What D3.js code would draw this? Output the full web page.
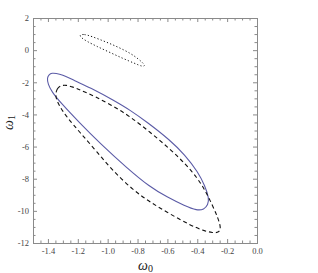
<!DOCTYPE html>
<html>
<head>
<meta charset="utf-8">
<script src="https://cdn.jsdelivr.net/npm/d3@7"></script>
<style>
  body { margin: 0; background: #fff; }
  svg { display: block; }
</style>
</head>
<body>
<svg id="chart" width="318" height="273"></svg>
<script>
// contour points, [omega0, omega1]
const solidContour = [
  [-1.406, -1.733], [-1.393, -1.516], [-1.373, -1.422], [-1.346, -1.441], [-1.306, -1.516],
  [-1.232, -1.858], [-1.085, -2.480], [-0.964, -3.102], [-0.850, -3.725], [-0.737, -4.471],
  [-0.583, -5.591], [-0.482, -6.525], [-0.395, -7.582], [-0.348, -8.453], [-0.321, -9.200],
  [-0.328, -9.636], [-0.355, -9.916], [-0.402, -9.978], [-0.482, -9.698], [-0.603, -9.138],
  [-0.717, -8.516], [-0.871, -7.333], [-1.051, -5.797], [-1.185, -4.552], [-1.319, -3.227],
  [-1.373, -2.605], [-1.400, -2.107]
];
const dashedContour = [
  [-1.353, -2.853], [-1.339, -2.356], [-1.313, -2.200], [-1.279, -2.169], [-1.232, -2.293],
  [-1.185, -2.468], [-1.085, -2.884], [-0.964, -3.476], [-0.850, -4.129], [-0.717, -5.093],
  [-0.583, -6.151], [-0.482, -7.053], [-0.402, -7.924], [-0.348, -8.702], [-0.301, -9.604],
  [-0.261, -10.444], [-0.241, -11.067], [-0.254, -11.347], [-0.295, -11.378], [-0.362, -11.222],
  [-0.449, -10.880], [-0.583, -10.196], [-0.717, -9.449], [-0.830, -8.702], [-0.964, -7.520],
  [-1.071, -6.338], [-1.185, -5.124], [-1.272, -4.191], [-1.326, -3.444]
];
const dottedContour = [
  [-1.189, 0.942], [-1.159, 1.004], [-1.105, 0.849], [-1.018, 0.538], [-0.931, 0.196],
  [-0.844, -0.209], [-0.790, -0.582], [-0.760, -0.831], [-0.750, -0.987], [-0.770, -1.018],
  [-0.817, -0.831], [-0.897, -0.520], [-0.984, -0.147], [-1.071, 0.227], [-1.138, 0.538],
  [-1.179, 0.787]
];

const xDomain = [-1.5, 0.0];
const yDomain = [-12, 2];
const xMajor = [-1.4, -1.2, -1.0, -0.8, -0.6, -0.4, -0.2, 0.0];
const yMajor = [-12, -10, -8, -6, -4, -2, 0, 2];

const svg = d3.select("#chart");
const margin = { left: 33, top: 18, right: 61, bottom: 30 };
const W = 318 - margin.left - margin.right;
const H = 273 - margin.top - margin.bottom;

const x = d3.scaleLinear().domain(xDomain).range([margin.left, margin.left + W]);
const y = d3.scaleLinear().domain(yDomain).range([margin.top + H, margin.top]);

// minor ticks
const xMinor = d3.range(-1.5, 0.0001, 0.05).filter(v => !xMajor.some(m => Math.abs(m - v) < 1e-6));
const yMinor = d3.range(-12, 2.0001, 0.5).filter(v => !yMajor.some(m => Math.abs(m - v) < 1e-6));

const fmtX = d => d3.format(".1f")(d).replace("−", "-");
const fmtY = d => String(d);

const axisColor = "#8a8a8a";
const labelColor = "#444";
const tickFont = "Liberation Serif, serif";

function styleAxis(g) {
  g.select(".domain").remove();
  g.selectAll("line").attr("stroke", axisColor).attr("stroke-width", 1);
  g.selectAll("text").attr("fill", labelColor).attr("font-family", tickFont).attr("font-size", 8.5);
}

// bottom
svg.append("g").attr("transform", `translate(0,${margin.top + H})`)
  .call(d3.axisBottom(x).tickValues(xMajor).tickFormat(fmtX).tickSize(-4).tickPadding(5))
  .call(styleAxis);
svg.append("g").attr("transform", `translate(0,${margin.top + H})`)
  .call(d3.axisBottom(x).tickValues(xMinor).tickFormat("").tickSize(-2.5))
  .call(styleAxis);
// top
svg.append("g").attr("transform", `translate(0,${margin.top})`)
  .call(d3.axisTop(x).tickValues(xMajor).tickFormat("").tickSize(-4))
  .call(styleAxis);
svg.append("g").attr("transform", `translate(0,${margin.top})`)
  .call(d3.axisTop(x).tickValues(xMinor).tickFormat("").tickSize(-2.5))
  .call(styleAxis);
// left
svg.append("g").attr("transform", `translate(${margin.left},0)`)
  .call(d3.axisLeft(y).tickValues(yMajor).tickFormat(fmtY).tickSize(-4).tickPadding(4))
  .call(styleAxis);
svg.append("g").attr("transform", `translate(${margin.left},0)`)
  .call(d3.axisLeft(y).tickValues(yMinor).tickFormat("").tickSize(-2.5))
  .call(styleAxis);
// right
svg.append("g").attr("transform", `translate(${margin.left + W},0)`)
  .call(d3.axisRight(y).tickValues(yMajor).tickFormat("").tickSize(-4))
  .call(styleAxis);
svg.append("g").attr("transform", `translate(${margin.left + W},0)`)
  .call(d3.axisRight(y).tickValues(yMinor).tickFormat("").tickSize(-2.5))
  .call(styleAxis);

// frame
svg.append("rect")
  .attr("x", margin.left + 0.5).attr("y", margin.top + 0.5)
  .attr("width", W).attr("height", H)
  .attr("fill", "none").attr("stroke", axisColor).attr("stroke-width", 1);

// contours
const line = d3.line()
  .x(d => x(d[0]))
  .y(d => y(d[1]))
  .curve(d3.curveBasisClosed);

const plot = svg.append("g");
plot.append("path").datum(solidContour)
  .attr("d", line).attr("fill", "none")
  .attr("stroke", "#5b5ba6").attr("stroke-width", 1.1);
plot.append("path").datum(dashedContour)
  .attr("d", line).attr("fill", "none")
  .attr("stroke", "#111").attr("stroke-width", 1.1)
  .attr("stroke-dasharray", "4,3");
plot.append("path").datum(dottedContour)
  .attr("d", line).attr("fill", "none")
  .attr("stroke", "#111").attr("stroke-width", 1)
  .attr("stroke-dasharray", "1.2,2.2");

// axis titles
const xt = svg.append("text")
  .attr("x", 138).attr("y", 270)
  .attr("font-family", tickFont).attr("font-style", "italic")
  .attr("font-size", 14).attr("fill", "#222");
xt.append("tspan").text("ω");
xt.append("tspan").attr("font-size", 10).attr("dy", 2).attr("font-style", "normal").text("0");

const yt = svg.append("text")
  .attr("transform", "translate(13,130) rotate(-90)")
  .attr("font-family", tickFont).attr("font-style", "italic")
  .attr("font-size", 14).attr("fill", "#222");
yt.append("tspan").text("ω");
yt.append("tspan").attr("font-size", 10).attr("dy", 2).attr("font-style", "normal").text("1");
</script>
</body>
</html>
